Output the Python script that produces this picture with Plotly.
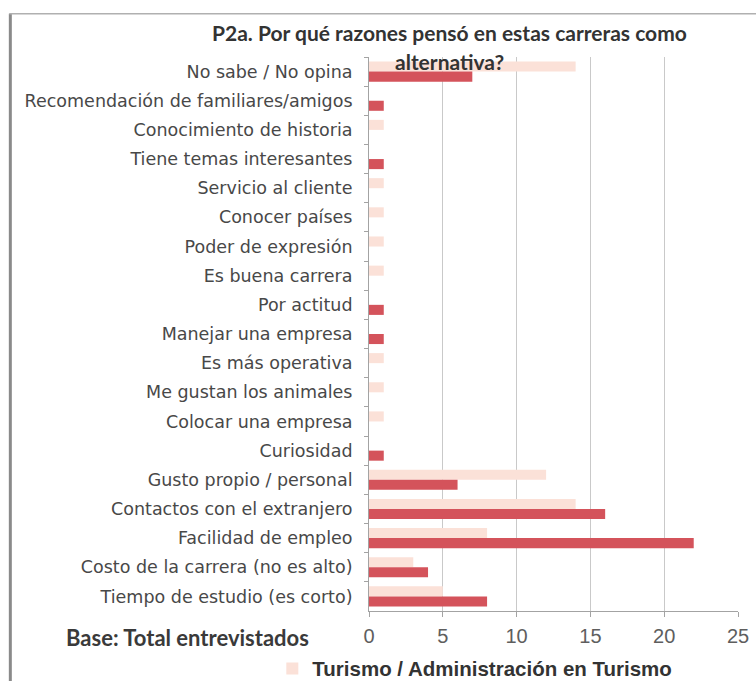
import plotly.graph_objects as go

# Reasons for considering these careers (counts of respondents)
categories = [
    "No sabe / No opina",
    "Recomendación de familiares/amigos",
    "Conocimiento de historia",
    "Tiene temas interesantes",
    "Servicio al cliente",
    "Conocer países",
    "Poder de expresión",
    "Es buena carrera",
    "Por actitud",
    "Manejar una empresa",
    "Es más operativa",
    "Me gustan los animales",
    "Colocar una empresa",
    "Curiosidad",
    "Gusto propio / personal",
    "Contactos con el extranjero",
    "Facilidad de empleo",
    "Costo de la carrera (no es alto)",
    "Tiempo de estudio (es corto)",
]
turismo = [14, 0, 1, 0, 1, 1, 1, 1, 0, 0, 1, 1, 1, 0, 12, 14, 8, 3, 5]
otra = [7, 1, 0, 1, 0, 0, 0, 0, 1, 1, 0, 0, 0, 1, 6, 16, 22, 4, 8]
x_ticks = [0, 5, 10, 15, 20, 25]

LIGHT = "#fbe1d8"
DARK = "#d4535b"
AXIS = "#a3a3a3"

fig = go.Figure()
fig.add_trace(go.Bar(
    y=categories, x=turismo, orientation="h",
    name="Turismo / Administración en Turismo",
    marker=dict(color=LIGHT, line=dict(width=0)),
))
fig.add_trace(go.Bar(
    y=categories, x=otra, orientation="h",
    marker=dict(color=DARK, line=dict(width=0)),
    showlegend=False,
))

fig.update_layout(
    width=756, height=681,
    margin=dict(l=369, r=18, t=57, b=70, autoexpand=False),
    paper_bgcolor="white", plot_bgcolor="white",
    barmode="group", bargap=0.31, bargroupgap=0.0,
    font=dict(family="Liberation Sans, Arial, sans-serif", color="#454545"),
    xaxis=dict(
        range=[0, 25], tickvals=x_ticks, showgrid=True, gridcolor="#c9c9c9", gridwidth=1,
        showline=True, linecolor=AXIS, linewidth=1,
        ticks="outside", ticklen=5, tickcolor=AXIS, ticklabelstandoff=2,
        tickfont=dict(family="Liberation Sans Narrow, Liberation Sans, Arial, sans-serif",
                      size=20, color="#5e5e5e"),
        zeroline=False,
    ),
    yaxis=dict(
        autorange="reversed", showline=True, linecolor=AXIS, linewidth=1,
        ticks="outside", ticklen=4, tickcolor=AXIS, tickson="boundaries",
        ticklabelstandoff=12,
        tickfont=dict(family="DejaVu Sans, sans-serif", size=17.5, color="#484848"),
        showgrid=False,
    ),
    showlegend=True,
    legend=dict(
        orientation="h", x=-0.262, xanchor="left", y=-0.104, yanchor="middle",
        font=dict(family="Liberation Sans, Arial, sans-serif", size=20.5, color="#333333",
                  weight="bold"),
        bgcolor="rgba(0,0,0,0)",
    ),
)

title_font = dict(family="Lato, sans-serif", size=21, color="#333333")
fig.add_annotation(
    text="<b>P2a. Por qué razones pensó en estas carreras como</b>",
    xref="paper", yref="paper", x=0.2195, y=1.045, xanchor="center", yanchor="middle",
    showarrow=False, font=title_font,
)
fig.add_annotation(
    text="<b>alternativa?</b>",
    xref="paper", yref="paper", x=0.2195, y=0.991, xanchor="center", yanchor="middle",
    showarrow=False, font=title_font,
)
fig.add_annotation(
    text="<b>Base: Total entrevistados</b>",
    xref="paper", yref="paper", x=-0.493, y=-0.047, xanchor="center", yanchor="middle",
    showarrow=False, font=dict(family="Lato, sans-serif", size=22, color="#3a3a3a"),
)

# Outer frame around the chart (left and top edges)
fig.add_shape(type="line", xref="paper", yref="paper",
              x0=-0.972, x1=-0.972, y0=1.078, y1=-0.2,
              line=dict(color="#8a8a8a", width=3))
fig.add_shape(type="line", xref="paper", yref="paper",
              x0=-0.975, x1=1.06, y0=1.078, y1=1.078,
              line=dict(color="#b0b0b0", width=1.5))

fig.write_html("out.html")
